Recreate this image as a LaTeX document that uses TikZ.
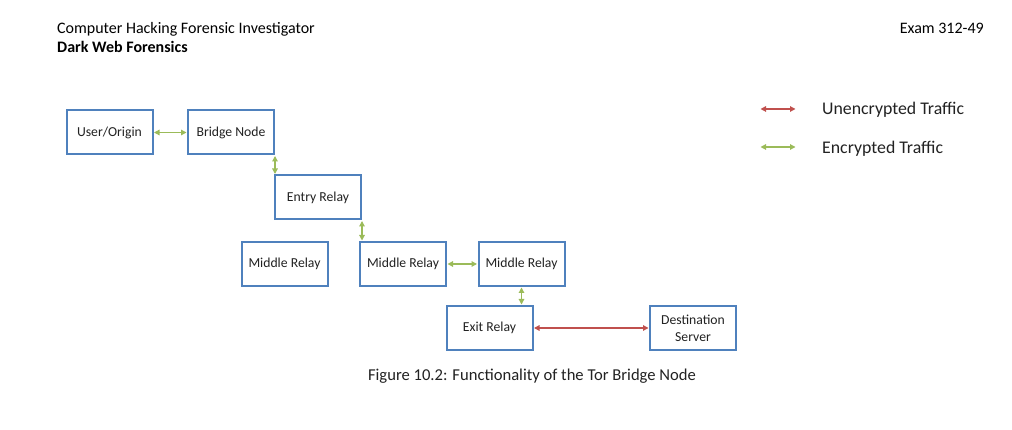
\documentclass[tikz,border=0pt]{standalone}
\usepackage{fontspec}
\setmainfont{Carlito}
\usetikzlibrary{arrows.meta}
\definecolor{boxblue}{HTML}{4F81BD}
\definecolor{encgreen}{HTML}{9BBB59}
\definecolor{uncred}{HTML}{C0504D}
\definecolor{txt}{HTML}{222222}
\tikzset{
  relay/.style={draw=boxblue, line width=2pt, minimum width=86pt, minimum height=44pt, inner sep=0pt, align=center, text=txt, font=\fontsize{13.7}{16}\selectfont},
  enc/.style={draw=encgreen, line width=1.2pt, {Triangle[length=5.5pt,width=5.5pt]}-{Triangle[length=5.5pt,width=5.5pt]}, shorten <=0.5pt, shorten >=0.5pt},
  unc/.style={draw=uncred, line width=1.2pt, {Triangle[length=5.5pt,width=5.5pt]}-{Triangle[length=5.5pt,width=5.5pt]}, shorten <=0.5pt, shorten >=0.5pt},
  hdr/.style={inner sep=0pt, text=black, font=\fontsize{16}{18}\selectfont},
  legtext/.style={inner sep=0pt, anchor=west, text=txt, font=\fontsize{17.8}{20}\selectfont}
}
\begin{document}
\begin{tikzpicture}[x=1pt,y=-1pt]
\useasboundingbox[fill=white] (0,0) rectangle (1012,430);
% header
\node[hdr, anchor=base west] (h1) at (57,33.5) {Computer Hacking Forensic Investigator};
\node[hdr, anchor=base west, font=\fontsize{16}{18}\selectfont\bfseries] (h2) at (57,52.5) {Dark Web Forensics};
\node[hdr, anchor=base east] (h3) at (984,33.5) {Exam 312-49};
% boxes
\node[relay] (user) at (109.5,132.5) {User/Origin};
\node[relay] (bridge) at (231,132.5) {Bridge Node};
\node[relay] (entry) at (318,197.5) {Entry Relay};
\node[relay] (mr1) at (284.5,264) {Middle Relay};
\node[relay] (mr2) at (403,264) {Middle Relay};
\node[relay] (mr3) at (521.5,264) {Middle Relay};
\node[relay] (exit) at (489.5,328) {Exit Relay};
\node[relay, font=\fontsize{13.7}{17}\selectfont] (dest) at (693,328) {Destination\\Server};
% connectors
\draw[enc] (user.east) -- (bridge.west);
\draw[enc] (bridge.south east) -- (bridge.south east |- entry.north);
\draw[enc] (entry.south east) -- (entry.south east |- mr2.north);
\draw[enc] (mr2.east) -- (mr3.west);
\draw[enc] (mr3.south) -- (mr3.south |- exit.north);
\draw[unc] (exit.east) -- (dest.west);
% legend
\coordinate (l1a) at (760,109);
\coordinate (l1b) at (796,109);
\coordinate (l2a) at (760,147);
\coordinate (l2b) at (796,147);
\draw[unc] (l1a) -- (l1b);
\draw[enc] (l2a) -- (l2b);
\node[legtext] (lt1) at (822,109.5) {Unencrypted Traffic};
\node[legtext] (lt2) at (822,148.5) {Encrypted Traffic};
% caption
\node[hdr, text=txt, font=\fontsize{16.6}{19}\selectfont] (cap) at (532,376) {Figure 10.2: Functionality of the Tor Bridge Node};
\end{tikzpicture}
\end{document}
